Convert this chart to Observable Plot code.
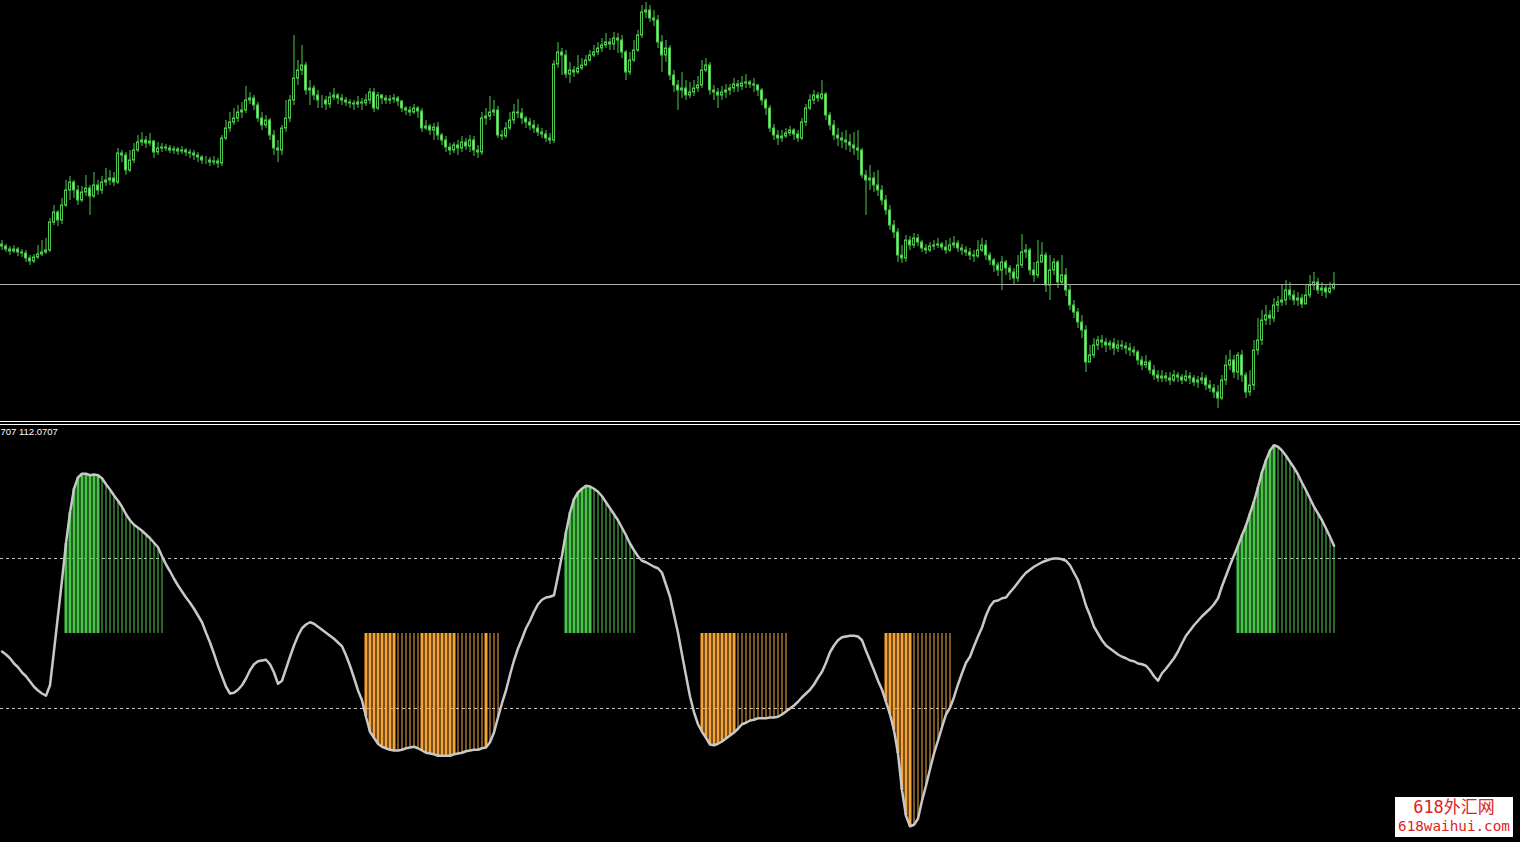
<!DOCTYPE html>
<html>
<head>
<meta charset="utf-8">
<script src="https://cdn.jsdelivr.net/npm/d3@7"></script>
<script src="https://cdn.jsdelivr.net/npm/@observablehq/plot@0.6"></script>
<style>
  html, body { margin: 0; padding: 0; background: #000; overflow: hidden; }
  #wrap { position: relative; width: 1520px; height: 842px; background: #000; }
  .sep { width: 1520px; }
  svg { display: block; }
  #wm { position: absolute; left: 1395px; top: 797px; width: 118px; height: 40px; background: #fff;
        color: #e01e1e; text-align: center; font-family: "DejaVu Sans Mono", "Noto Sans CJK SC", monospace; }
  #wm .l1 { font-size: 17px; line-height: 19px; padding-top: 1px; font-family: "DejaVu Sans Mono", "Noto Sans CJK SC"; }
  #wm .l2 { font-size: 14.3px; line-height: 18px; }
</style>
</head>
<body>
<div id="wrap">
  <div id="topPanel"></div>
  <div class="sep" style="height:1px;background:#fff"></div>
  <div class="sep" style="height:2px;background:#000"></div>
  <div class="sep" style="height:1px;background:#fff"></div>
  <div id="bottomPanel"></div>
  <div id="wm"><div class="l1">618外汇网</div><div class="l2">618waihui.com</div></div>
</div>
<script>
// ---------- price data (one bar per index) ----------
const firstOpen = 112.56;
const closes = [
 112.54,112.51,112.49,112.51,112.48,112.47,112.42,112.39,112.43,112.46,
 112.48,112.50,112.78,112.88,112.80,112.95,113.10,113.18,113.10,113.00,
 113.08,113.12,113.04,113.15,113.10,113.18,113.20,113.22,113.18,113.47,
 113.45,113.30,113.40,113.50,113.58,113.60,113.57,113.59,113.48,113.52,
 113.53,113.52,113.50,113.51,113.49,113.50,113.48,113.47,113.45,113.43,
 113.40,113.40,113.38,113.39,113.37,113.62,113.72,113.78,113.82,113.88,
 113.90,114.00,114.02,113.95,113.82,113.75,113.80,113.65,113.52,113.50,
 113.72,113.82,114.00,114.22,114.30,114.35,114.10,114.12,114.05,114.00,
 114.00,113.96,114.03,114.05,114.02,114.00,113.98,113.97,113.96,113.98,
 113.97,114.00,114.08,113.92,114.05,114.02,114.00,114.01,114.02,113.99,
 113.92,113.90,113.88,113.92,113.89,113.72,113.74,113.70,113.73,113.65,
 113.60,113.53,113.50,113.55,113.52,113.58,113.54,113.60,113.50,113.48,
 113.82,113.84,113.88,113.90,113.65,113.64,113.72,113.80,113.88,113.87,
 113.82,113.78,113.75,113.72,113.68,113.66,113.62,113.60,114.36,114.48,
 114.45,114.26,114.30,114.28,114.32,114.35,114.40,114.45,114.48,114.52,
 114.55,114.58,114.56,114.62,114.60,114.48,114.28,114.40,114.50,114.65,
 114.88,114.90,114.82,114.80,114.58,114.45,114.52,114.25,114.15,114.10,
 114.12,114.05,114.08,114.12,114.15,114.30,114.35,114.10,114.08,114.05,
 114.08,114.10,114.12,114.16,114.14,114.17,114.18,114.16,114.15,114.10,
 114.00,113.92,113.72,113.65,113.62,113.64,113.67,113.70,113.66,113.62,
 113.78,113.92,114.00,114.05,114.02,114.06,113.85,113.75,113.65,113.62,
 113.60,113.58,113.55,113.52,113.50,113.25,113.20,113.22,113.15,113.10,
 113.00,112.90,112.75,112.68,112.45,112.42,112.60,112.55,112.62,112.58,
 112.52,112.50,112.54,112.55,112.56,112.53,112.50,112.55,112.57,112.52,
 112.50,112.48,112.45,112.44,112.50,112.55,112.45,112.40,112.35,112.30,
 112.38,112.32,112.28,112.22,112.35,112.48,112.50,112.30,112.25,112.38,
 112.45,112.15,112.30,112.38,112.18,112.25,112.10,111.95,111.88,111.78,
 111.70,111.38,111.45,111.55,111.60,111.58,111.55,111.57,111.52,111.55,
 111.54,111.52,111.50,111.48,111.40,111.35,111.38,111.30,111.25,111.22,
 111.24,111.22,111.20,111.25,111.23,111.20,111.24,111.22,111.18,111.20,
 111.22,111.15,111.12,111.08,111.02,111.20,111.35,111.40,111.28,111.45,
 111.25,111.08,111.15,111.50,111.60,111.80,111.85,111.82,111.95,111.98,
 112.00,112.10,112.05,112.00,112.02,111.96,112.05,112.15,112.18,112.10,
 112.12,112.08,112.12,112.16
];
const highs = [
 112.60,112.56,112.54,112.55,112.53,112.51,112.50,112.45,112.46,112.55,
 112.60,112.62,112.82,112.95,112.90,113.02,113.20,113.24,113.20,113.15,
 113.14,113.25,113.15,113.28,113.20,113.24,113.32,113.30,113.28,113.52,
 113.50,113.48,113.50,113.57,113.65,113.68,113.64,113.67,113.60,113.58,
 113.57,113.56,113.55,113.54,113.53,113.54,113.52,113.51,113.50,113.48,
 113.45,113.44,113.43,113.44,113.42,113.65,113.80,113.88,113.92,113.95,
 113.98,114.14,114.08,114.05,113.98,113.88,113.85,113.82,113.70,113.60,
 113.75,114.00,114.05,114.65,114.40,114.55,114.38,114.20,114.15,114.10,
 114.05,114.04,114.08,114.12,114.07,114.06,114.03,114.01,114.00,114.04,
 114.02,114.06,114.12,114.12,114.08,114.06,114.05,114.05,114.06,114.04,
 114.00,113.94,113.94,113.96,113.94,113.92,113.80,113.76,113.77,113.78,
 113.67,113.64,113.57,113.58,113.60,113.64,113.62,113.65,113.64,113.55,
 113.88,113.92,114.04,114.00,113.94,113.70,113.78,113.88,113.96,114.01,
 113.92,113.84,113.82,113.80,113.76,113.72,113.70,113.67,114.40,114.58,
 114.52,114.50,114.38,114.34,114.45,114.42,114.45,114.50,114.55,114.58,
 114.62,114.67,114.62,114.68,114.67,114.65,114.50,114.48,114.60,114.70,
 114.95,114.98,114.95,114.90,114.85,114.65,114.60,114.55,114.30,114.20,
 114.28,114.20,114.18,114.20,114.24,114.40,114.42,114.38,114.15,114.12,
 114.14,114.16,114.16,114.22,114.20,114.24,114.26,114.20,114.22,114.16,
 114.12,114.02,113.95,113.76,113.70,113.70,113.72,113.74,113.72,113.70,
 113.82,113.96,114.06,114.10,114.08,114.20,114.08,113.88,113.80,113.72,
 113.68,113.70,113.66,113.68,113.70,113.52,113.30,113.35,113.28,113.30,
 113.15,113.05,112.95,112.80,112.72,112.55,112.65,112.64,112.67,112.66,
 112.60,112.56,112.58,112.60,112.62,112.58,112.60,112.62,112.64,112.60,
 112.56,112.54,112.52,112.50,112.60,112.62,112.60,112.48,112.42,112.38,
 112.44,112.40,112.35,112.32,112.45,112.66,112.56,112.52,112.38,112.60,
 112.58,112.48,112.45,112.42,112.40,112.45,112.32,112.15,112.00,111.92,
 111.85,111.75,111.55,111.62,111.64,111.65,111.62,111.60,111.62,111.60,
 111.60,111.58,111.57,111.54,111.50,111.44,111.45,111.40,111.35,111.30,
 111.30,111.28,111.28,111.30,111.28,111.26,111.30,111.28,111.25,111.24,
 111.28,111.25,111.20,111.16,111.15,111.25,111.45,111.50,111.45,111.48,
 111.50,111.28,111.30,111.60,111.82,111.90,111.95,111.90,112.02,112.04,
 112.15,112.20,112.18,112.10,112.08,112.06,112.15,112.25,112.28,112.22,
 112.18,112.16,112.18,112.28
];
const lows = [
 112.50,112.48,112.45,112.47,112.44,112.43,112.38,112.35,112.37,112.41,
 112.44,112.46,112.48,112.75,112.74,112.76,112.93,113.00,113.02,112.95,
 112.98,113.04,112.85,113.02,113.05,113.06,113.14,113.15,113.14,113.16,
 113.38,113.25,113.28,113.37,113.48,113.54,113.52,113.54,113.42,113.45,
 113.48,113.49,113.47,113.46,113.45,113.46,113.44,113.42,113.40,113.38,
 113.36,113.36,113.34,113.35,113.32,113.34,113.60,113.68,113.75,113.78,
 113.82,113.87,113.96,113.90,113.78,113.70,113.72,113.60,113.45,113.38,
 113.45,113.68,113.78,113.95,114.15,114.25,114.05,113.95,114.00,113.92,
 113.92,113.90,113.92,114.00,113.96,113.95,113.94,113.92,113.90,113.92,
 113.90,113.94,113.96,113.88,113.90,113.96,113.96,113.96,113.97,113.94,
 113.88,113.85,113.84,113.86,113.82,113.68,113.70,113.65,113.60,113.60,
 113.55,113.48,113.45,113.47,113.45,113.48,113.50,113.48,113.44,113.42,
 113.45,113.75,113.80,113.84,113.62,113.60,113.62,113.70,113.76,113.82,
 113.76,113.72,113.70,113.67,113.64,113.62,113.58,113.56,113.57,114.32,
 114.25,114.22,114.17,114.23,114.26,114.30,114.34,114.38,114.43,114.45,
 114.48,114.52,114.50,114.50,114.47,114.42,114.20,114.25,114.38,114.48,
 114.62,114.82,114.78,114.74,114.52,114.28,114.38,114.20,114.08,113.90,
 114.02,114.00,114.02,114.04,114.08,114.12,114.28,114.05,114.00,113.92,
 114.00,114.02,114.05,114.08,114.08,114.10,114.12,114.12,114.08,114.04,
 113.95,113.85,113.68,113.60,113.55,113.58,113.62,113.64,113.60,113.58,
 113.60,113.74,113.90,113.96,113.98,114.00,113.80,113.70,113.60,113.54,
 113.52,113.50,113.48,113.45,113.40,113.22,112.85,113.10,113.08,113.04,
 112.95,112.85,112.70,112.62,112.38,112.37,112.38,112.50,112.52,112.54,
 112.48,112.46,112.48,112.50,112.52,112.50,112.46,112.48,112.52,112.48,
 112.45,112.44,112.40,112.38,112.42,112.48,112.40,112.35,112.28,112.24,
 112.10,112.25,112.20,112.15,112.18,112.32,112.42,112.25,112.18,112.22,
 112.38,112.08,112.00,112.25,112.12,112.15,112.04,111.90,111.82,111.72,
 111.62,111.28,111.38,111.42,111.50,111.52,111.48,111.50,111.45,111.48,
 111.50,111.46,111.44,111.44,111.35,111.30,111.32,111.26,111.20,111.18,
 111.18,111.18,111.15,111.18,111.18,111.16,111.18,111.16,111.14,111.12,
 111.16,111.10,111.08,111.02,110.92,111.00,111.15,111.30,111.22,111.20,
 111.18,111.02,111.04,111.10,111.45,111.55,111.75,111.75,111.78,111.88,
 111.94,111.95,112.00,111.95,111.94,111.92,111.98,112.02,112.10,112.06,
 112.04,112.02,112.06,112.10
];
const bidPrice = 112.16;

// ---------- oscillator data ----------
const osc = [
 -24,-28,-33,-40,-45,-52,-57,-64,-71,-76,
 -80,-83,-69,-23,24,71,120,161,193,208,
 213,213,211,212,211,207,199,192,184,177,
 169,159,151,145,141,137,132,127,121,115,
 103,92,83,73,64,56,48,41,33,24,
 15,1,-12,-27,-43,-57,-71,-80,-79,-75,
 -69,-60,-49,-41,-37,-36,-35,-41,-52,-67,
 -63,-47,-31,-16,-3,7,12,15,13,9,
 5,1,-3,-7,-12,-17,-29,-43,-59,-76,
 -89,-111,-131,-139,-147,-151,-153,-155,-156,-156,
 -155,-153,-152,-151,-153,-156,-159,-160,-161,-163,
 -163,-163,-163,-161,-160,-159,-157,-156,-155,-155,
 -153,-152,-145,-132,-112,-93,-76,-55,-36,-20,
 -7,7,17,29,39,45,48,49,51,77,
 104,135,161,179,188,193,197,196,193,189,
 183,175,167,159,151,141,131,120,111,103,
 97,95,92,89,87,81,65,49,25,1,
 -28,-56,-84,-105,-121,-131,-139,-148,-149,-147,
 -144,-140,-136,-132,-127,-121,-119,-116,-115,-113,
 -113,-113,-112,-112,-111,-108,-104,-100,-96,-91,
 -85,-80,-75,-68,-59,-51,-39,-25,-16,-9,
 -5,-4,-3,-3,-4,-9,-23,-36,-49,-63,
 -75,-91,-108,-129,-160,-209,-243,-257,-255,-247,
 -223,-203,-181,-160,-143,-125,-108,-99,-85,-68,
 -53,-39,-31,-17,-4,8,24,36,43,44,
 47,48,55,61,68,75,81,85,89,92,
 95,97,99,100,100,99,97,91,81,71,
 55,37,24,9,0,-9,-16,-20,-24,-28,
 -31,-33,-36,-37,-40,-41,-43,-49,-57,-63,
 -53,-47,-40,-33,-24,-13,-3,4,11,17,
 23,28,33,39,47,63,77,91,104,117,
 131,144,160,176,195,215,231,244,251,249,
 244,237,229,221,212,201,191,180,169,160,
 151,140,129,117
];
const levels = [100, -100];
// histogram runs: [first bar, last bar, kind] kind 2 = strong (wide), 1 = weak (thin)
const histRuns = [
 [16,24,2],[25,40,1],
 [91,98,2],[99,104,1],[105,113,2],[114,120,1],[121,121,2],[122,124,1],
 [141,147,2],[148,158,1],
 [175,183,2],[184,196,1],
 [221,227,2],[228,237,1],
 [309,318,2],[319,333,1]
];
const indicatorLabel = "707 112.0707";

// ---------- build tables ----------
const bars = closes.map((c, i) => {
  const o = i === 0 ? firstOpen : closes[i - 1];
  return {i, o, c, hi: Math.max(highs[i], o, c), lo: Math.min(lows[i], o, c)};
});
const bull = bars.filter(d => d.c >= d.o);
const bear = bars.filter(d => d.c < d.o);
const oscRows = osc.map((v, i) => ({i, v}));
const hist = [];
for (const [a, b, k] of histRuns) for (let i = a; i <= b; i++) hist.push({i, v: osc[i], k});

const candleGreen = "#4ec84e", bearFill = "#92e492";
const histGreen = "#47c447", histGreenThin = "#52cf52", histOrange = "#f4a334", histOrangeThin = "#f8ad40";
const xDomain = [-0.375, 379.625];

const priceChart = Plot.plot({
  width: 1520, height: 421, margin: 0,
  style: {background: "#000", color: "#fff"},
  x: {domain: xDomain, axis: null},
  y: {domain: [110.79, 115.00], axis: null},
  marks: [
    Plot.ruleX(bars, {x: "i", y1: "lo", y2: "hi", stroke: candleGreen, strokeWidth: 1}),
    Plot.rect(bull, {x1: d => d.i - 0.25, x2: d => d.i + 0.25, y1: "o", y2: "c", fill: "#000", stroke: candleGreen, strokeWidth: 1}),
    Plot.rect(bear, {x1: d => d.i - 0.25, x2: d => d.i + 0.25, y1: "o", y2: "c", fill: bearFill, stroke: candleGreen, strokeWidth: 1}),
    Plot.ruleY([bidPrice], {stroke: "#b0b0b0", strokeWidth: 1})
  ]
});
document.getElementById("topPanel").appendChild(priceChart);

const oscChart = Plot.plot({
  width: 1520, height: 417, margin: 0,
  style: {background: "#000", color: "#fff"},
  x: {domain: xDomain, axis: null},
  y: {domain: [-278.67, 277.33], axis: null},
  marks: [
    Plot.ruleY(levels, {stroke: "#c4c4c4", strokeWidth: 1, strokeDasharray: "3,3"}),
    Plot.ruleX(hist.filter(d => d.k === 2 && d.v > 0), {x: "i", y1: 0, y2: "v", stroke: histGreen, strokeWidth: 3}),
    Plot.ruleX(hist.filter(d => d.k === 1 && d.v > 0), {x: "i", y1: 0, y2: "v", stroke: histGreenThin, strokeWidth: 1}),
    Plot.ruleX(hist.filter(d => d.k === 2 && d.v < 0), {x: "i", y1: 0, y2: "v", stroke: histOrange, strokeWidth: 3}),
    Plot.ruleX(hist.filter(d => d.k === 1 && d.v < 0), {x: "i", y1: 0, y2: "v", stroke: histOrangeThin, strokeWidth: 1}),
    Plot.line(oscRows, {x: "i", y: "v", stroke: "#c8c8c8", strokeWidth: 2.5}),
    Plot.text([indicatorLabel], {text: d => d, frameAnchor: "top-left", textAnchor: "start", lineAnchor: "top", dy: 3,
      fill: "#ffffff", fontSize: 9.5, fontFamily: "Liberation Sans"})
  ]
});
document.getElementById("bottomPanel").appendChild(oscChart);
</script>
</body>
</html>
